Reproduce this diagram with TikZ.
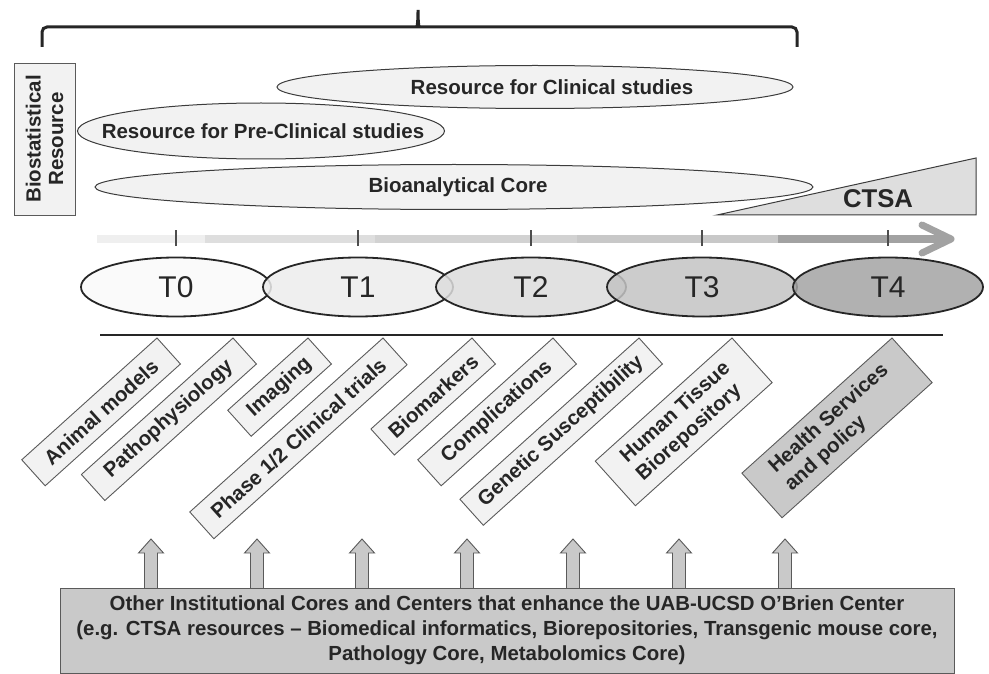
\documentclass[tikz,border=0pt]{standalone}
\usepackage{fontspec}
\setmainfont{Liberation Sans}
\usepackage{tikz}
\usetikzlibrary{shapes.geometric, arrows.meta, positioning}

\definecolor{ink}{HTML}{262626}
\definecolor{edgegray}{HTML}{3C3C3C}
\definecolor{boxgray}{HTML}{5A5A5A}
\definecolor{lightfill}{HTML}{F2F2F2}
\definecolor{wedgefill}{HTML}{DEDEDE}
\definecolor{darkfill}{HTML}{C9C9C9}
\definecolor{tickgray}{HTML}{4D4D4D}
\definecolor{tlA}{HTML}{EFEFEF}
\definecolor{tlB}{HTML}{DEDEDE}
\definecolor{tlC}{HTML}{D2D2D2}
\definecolor{tlD}{HTML}{C8C8C8}
\definecolor{tlE}{HTML}{A2A2A2}
\definecolor{tA}{HTML}{F9F9F9}
\definecolor{tB}{HTML}{ECECEC}
\definecolor{tC}{HTML}{DCDCDC}
\definecolor{tD}{HTML}{C3C3C3}
\definecolor{tE}{HTML}{A3A3A3}

\newcommand{\labelfont}{\bfseries\fontsize{20.5}{24}\selectfont}

\begin{document}
\begin{tikzpicture}[x=1pt, y=-1pt,
  resource/.style={ellipse, draw=edgegray, line width=1pt, fill=lightfill, inner sep=0pt},
  reslabel/.style={font=\labelfont, text=ink, inner sep=0pt},
  phase/.style={ellipse, draw=ink, line width=1.8pt, minimum width=190pt, minimum height=59pt,
                inner sep=0pt, fill opacity=0.85, text opacity=1,
                font=\fontsize{30}{32}\selectfont, text=ink},
  topic/.style={draw=boxgray, fill=lightfill, line width=0.9pt, rotate=42, anchor=north east,
                outer sep=0pt, inner sep=2pt, align=left, font=\labelfont, text=ink},
  tick/.style={draw=tickgray, line width=1.2pt},
  bar/.style={line width=8pt},
  uparrow/.style={draw=boxgray, fill=darkfill, line width=0.9pt}
]
\useasboundingbox (0,0) rectangle (989,674);

% Top brace
\draw[line width=3pt, draw=ink, rounded corners=5pt]
  (42,47) -- (42,27) -- (412,27) .. controls (417,27) and (418,22) .. (418,7)
  .. controls (418,22) and (419,27) .. (424,27) -- (797,27) -- (797,47);

% Biostatistics box
\node[draw=boxgray, fill=lightfill, line width=0.9pt, rotate=90, minimum width=152pt,
      minimum height=61pt, inner sep=0pt, align=center,
      font=\bfseries\fontsize{20.5}{22.5}\selectfont, text=ink]
  (biostat) at (44.5,139) {Biostatistical\\Resource};

% Resource ellipses
\node[resource, minimum width=516pt, minimum height=43pt] (clinical) at (535,87) {};
\node[reslabel] (clinicallbl) at ([xshift=17pt]clinical.center) {Resource for Clinical studies};
\node[resource, minimum width=367pt, minimum height=56pt] (preclinical) at (261,131) {};
\node[reslabel] (preclinicallbl) at ([xshift=2pt]preclinical.center) {Resource for Pre-Clinical studies};

% CTSA wedge
\draw[draw=edgegray, fill=wedgefill, line width=1pt] (717,215) -- (976,215) -- (976,158) -- cycle;
\node[font=\bfseries\fontsize{25.7}{28}\selectfont, text=ink] (ctsa) at (878,199) {CTSA};

\node[resource, minimum width=718pt, minimum height=45pt] (bioanalytical) at (454,187) {};
\node[reslabel] (bioanalyticallbl) at ([xshift=4pt]bioanalytical.center) {Bioanalytical Core};

% Translational phases
\node[phase, fill=tA] (t0) at (176,287) {T0};
\node[phase, fill=tB] (t1) at (358,287) {T1};
\node[phase, fill=tC] (t2) at (531,287) {T2};
\node[phase, fill=tD] (t3) at (702,287) {T3};
\node[phase, fill=tE] (t4) at (888,287) {T4};

% Timeline arrow
\draw[bar, tlA] (97,239) -- (205,239);
\draw[bar, tlB] (205,239) -- (375,239);
\draw[bar, tlC] (375,239) -- (577,239);
\draw[bar, tlD] (577,239) -- (778,239);
\draw[bar, tlE] (778,239) -- (946,239);
\draw[line width=7pt, tlE, line cap=round, line join=round] (922,225) -- (951,239) -- (922,253);
\foreach \t in {t0,t1,t2,t3,t4}
  \draw[tick] ([yshift=10.5pt]\t.north) -- ([yshift=26.5pt]\t.north);

\draw[line width=2.5pt, draw=ink] (100,335) -- (943,335);

% Research areas
\node[topic, minimum width=182pt, minimum height=35pt] (animal) at (157,338) {Animal models};
\node[topic, minimum width=204pt, minimum height=35pt] (patho) at (233,338) {Pathophysiology};
\node[topic, minimum width=108pt, minimum height=35pt] (imaging) at (308,338) {Imaging};
\node[topic, minimum width=260pt, minimum height=36pt] (trials) at (383,338) {Phase 1/2 Clinical trials};
\node[topic, minimum width=136pt, minimum height=35pt] (biomarkers) at (472,338) {Biomarkers};
\node[topic, minimum width=182pt, minimum height=35pt] (complications) at (553,338) {Complications};
\node[topic, minimum width=241pt, minimum height=35pt] (genetic) at (639,338) {Genetic Susceptibility};
\node[topic, minimum width=184pt, minimum height=60pt] (tissue) at (732,338) {Human Tissue\\Biorepository};
\node[topic, fill=darkfill, minimum width=202pt, minimum height=60pt] (health) at (892,338)
  {Health Services\\and policy};

% Support arrows
\foreach \x in {151,257,362,467,573,679,785}
  \draw[uparrow] (\x-6.5,590) -- (\x-6.5,553) -- (\x-12.5,553) -- (\x,539)
    -- (\x+12.5,553) -- (\x+6.5,553) -- (\x+6.5,590) -- cycle;

% Institutional cores
\node[draw=boxgray, fill=darkfill, line width=1pt, minimum width=894pt, minimum height=85pt,
      inner sep=0pt, align=center, font=\bfseries\fontsize{20.4}{25}\selectfont, text=ink]
  (cores) at (507,630.5)
  {Other Institutional Cores and Centers that enhance the UAB-UCSD O’Brien Center\\
   (e.g. CTSA resources – Biomedical informatics, Biorepositories, Transgenic mouse core,\\
   Pathology Core, Metabolomics Core)};

\end{tikzpicture}
\end{document}
